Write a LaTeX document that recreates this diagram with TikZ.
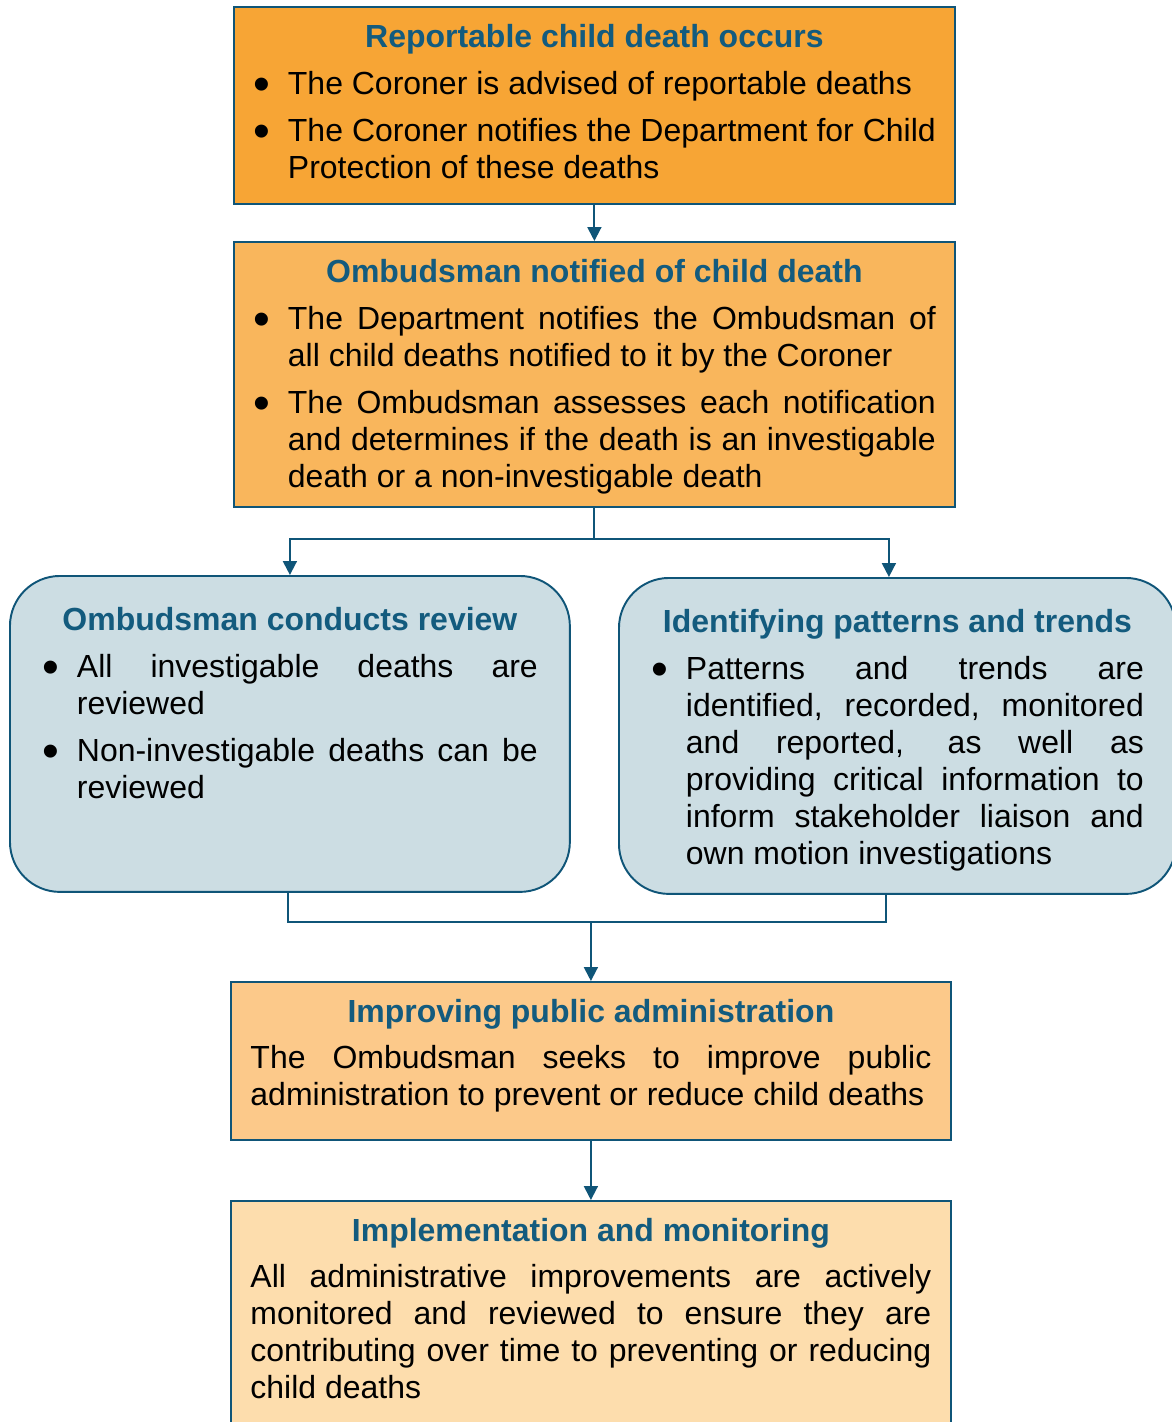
\documentclass[tikz,border=0pt]{standalone}
\usepackage{fontspec}
\setmainfont{Liberation Sans}
\usepackage{enumitem}
\usetikzlibrary{arrows.meta}

\definecolor{edgeblue}{HTML}{0F5578}
\definecolor{titleblue}{HTML}{135B7E}
\definecolor{fillA}{HTML}{F7A535}
\definecolor{fillB}{HTML}{F9B65C}
\definecolor{fillC}{HTML}{CCDDE3}
\definecolor{fillD}{HTML}{FCC98A}
\definecolor{fillE}{HTML}{FDDDAD}

\hyphenpenalty=10000
\exhyphenpenalty=10000
\tolerance=10000
\setlist[itemize]{label=\raisebox{-0.19em}{\scalebox{1.5}{\textbullet}},leftmargin=0.7cm,labelsep=0.36cm,
  topsep=0.2cm,partopsep=0pt,parsep=0pt,itemsep=0.2cm}

% box text: height, width, top pad, content
\newcommand{\flowbox}[4]{\begin{minipage}[t][#1][t]{#2}\vspace*{#3}#4\end{minipage}}
\newcommand{\boxtitle}[1]{{\centering\bfseries\color{titleblue}#1\par}}

\tikzset{
  flow/.style={draw=edgeblue,line width=1.1pt,anchor=north west,inner ysep=0pt,
    font=\fontsize{18.2}{21.05}\selectfont},
  roundflow/.style={flow,rounded corners=1cm},
  link/.style={draw=edgeblue,line width=1.1pt},
  arr/.style={link,-{Triangle[width=0.28cm,length=0.28cm]}}
}

\begin{document}
\begin{tikzpicture}[x=0.02cm,y=-0.02cm]
            \useasboundingbox (0,0) rectangle (1172,1422);
            \node [flow,fill=fillA,inner xsep=0.38cm] (occurs) at (233,6)
              {\flowbox{3.94cm}{13.66cm}{0.34cm}{%
                \boxtitle{Reportable child death occurs}
                \begin{itemize}
                \item The Coroner is advised of reportable deaths
                \item The Coroner notifies the Department for Child\linebreak Protection of these deaths
                \end{itemize}}};
            \node [flow,fill=fillB,inner xsep=0.38cm] (notified) at (233,241)
              {\flowbox{5.30cm}{13.66cm}{0.34cm}{%
                \boxtitle{Ombudsman notified of child death}
                \begin{itemize}
                \item The Department notifies the Ombudsman of\linebreak all child deaths notified to it by the Coroner
                \item The Ombudsman assesses each notification\linebreak and determines if the death is an investigable\linebreak death or a non-investigable death
                \end{itemize}}};
            \node [roundflow,fill=fillC,inner xsep=0.64cm] (review) at (9,575)
              {\flowbox{6.32cm}{9.92cm}{0.62cm}{%
                \boxtitle{Ombudsman conducts review}
                \begin{itemize}
                \item All investigable deaths are\linebreak reviewed
                \item Non-investigable deaths can be\linebreak reviewed
                \end{itemize}}};
            \node [roundflow,fill=fillC,inner xsep=0.64cm] (patterns) at (618,577)
              {\flowbox{6.32cm}{9.86cm}{0.62cm}{%
                \boxtitle{Identifying patterns and trends}
                \begin{itemize}
                \item Patterns and trends are\linebreak identified, recorded, monitored\linebreak and reported, as well as\linebreak providing critical information to\linebreak inform stakeholder liaison and\linebreak own motion investigations
                \end{itemize}}};
            \node [flow,fill=fillD,inner xsep=0.39cm] (admin) at (230,981)
              {\flowbox{3.16cm}{13.62cm}{0.34cm}{%
                \boxtitle{Improving public administration}
                \vspace{0.18cm}
                The Ombudsman seeks to improve public\linebreak administration to prevent or reduce child deaths}};
            \node [flow,fill=fillE,inner xsep=0.39cm] (monitor) at (230,1200)
              {\flowbox{4.8cm}{13.62cm}{0.34cm}{%
                \boxtitle{Implementation and monitoring}
                \vspace{0.18cm}
                All administrative improvements are actively\linebreak monitored and reviewed to ensure they are\linebreak contributing over time to preventing or reducing\linebreak child deaths}};
            % connectors
            \draw [arr] (occurs.south) -- (notified.north);
            \draw [link] (notified.south) -- ++(0,31) coordinate (fork);
            \draw [arr] (fork) -| (review.north);
            \draw [arr] (fork) -| ([xshift=-0.17cm]patterns.north);
            \path (admin.north) ++(0,-59) coordinate (join);
            \draw [link] ([xshift=-0.04cm]review.south) |- (join) -| ([xshift=-0.23cm]patterns.south);
            \draw [arr] (join) -- (admin.north);
            \draw [arr] (admin.south) -- (monitor.north);
\end{tikzpicture}
\end{document}
